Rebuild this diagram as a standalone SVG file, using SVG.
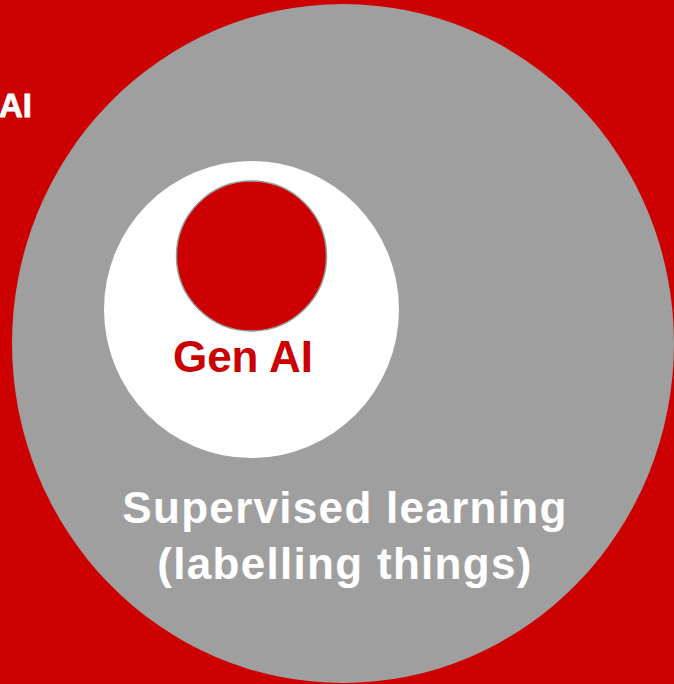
<svg xmlns="http://www.w3.org/2000/svg" width="674" height="684" viewBox="0 0 674 684">
<style>
.lbl{font-family:"Liberation Sans",Arial,sans-serif;font-weight:bold;}
</style>
<rect id="background" x="0" y="0" width="674" height="684" fill="#cc0000"/>
<g id="ai">
<text class="lbl" x="32" y="116.5" font-size="33" fill="#ffffff" text-anchor="end" stroke="#ffffff" stroke-width="0.8">AI</text>
</g>
<g id="supervised">
<ellipse cx="343" cy="343.5" rx="331" ry="339.5" fill="#9f9f9f"/>
<text class="lbl" x="345" y="523" font-size="44" fill="#ffffff" text-anchor="middle" letter-spacing="1.3">Supervised learning</text>
<text class="lbl" x="345" y="579" font-size="44" fill="#ffffff" text-anchor="middle" letter-spacing="1.3">(labelling things)</text>
</g>
<g id="ml">
<ellipse cx="251.5" cy="309.5" rx="147.5" ry="148.5" fill="#ffffff"/>
</g>
<g id="genai">
<circle cx="251.5" cy="256" r="75" fill="#cc0000" stroke="#999999" stroke-width="1.5"/>
<text class="lbl" x="243" y="372" font-size="44" fill="#cc0000" text-anchor="middle">Gen AI</text>
</g>
<g id="connectors"/>
</svg>
